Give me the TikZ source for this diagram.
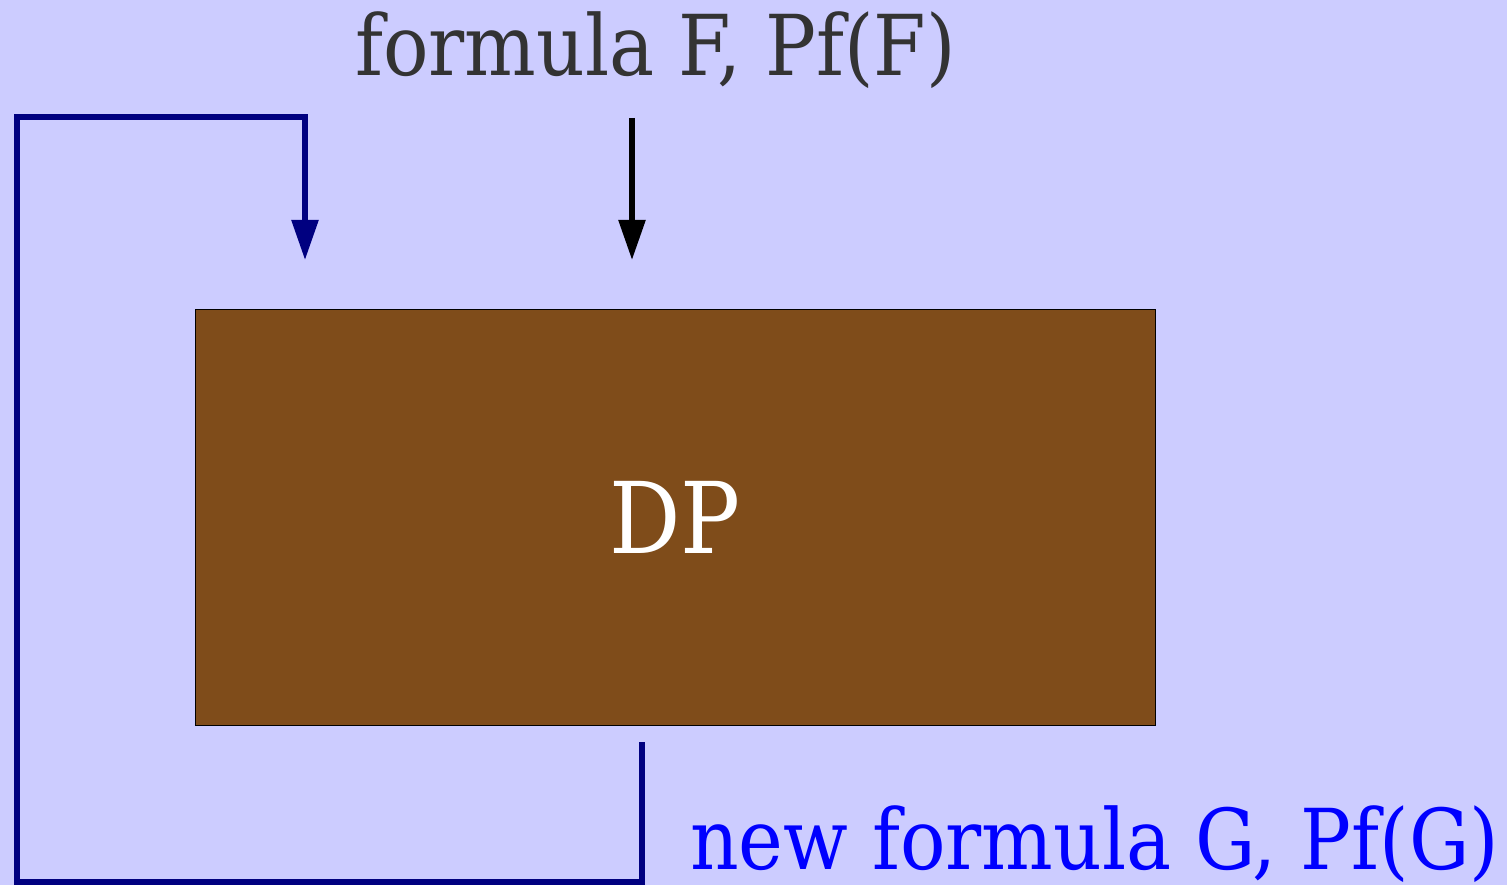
\documentclass[tikz,border=0pt]{standalone}
\usepackage{fontspec}
\setmainfont{DejaVu Serif Condensed}
\usetikzlibrary{arrows.meta}
\definecolor{bg}{HTML}{CCCCFF}
\definecolor{brownbox}{HTML}{7F4C1A}
\definecolor{navy}{HTML}{000080}
\definecolor{darktext}{HTML}{333333}
\definecolor{bluetext}{HTML}{0000FF}
\tikzset{
  lbl/.style={inner sep=0pt, anchor=base west, font=\fontsize{84}{100}\selectfont},
  feed/.style={line width=5.5pt, -{Triangle[width=26pt,length=40pt]}},
}
\begin{document}
\begin{tikzpicture}[x=1pt,y=-1pt]
\useasboundingbox (0,0) rectangle (1507,885);
\fill[bg] (0,0) rectangle (1507,885);
\node[draw=black, line width=1pt, fill=brownbox, minimum width=960pt, minimum height=415pt, inner sep=0pt, text=white, font=\fontsize{99}{115}\selectfont] (dp) at (675,517.5) {DP};
\node[lbl, text=darktext] (top) at (355,76) {formula F, Pf(F)};
\node[lbl, text=bluetext] (bot) at (690,869) {new formula G, Pf(G)};
\coordinate (a1) at (632,118);
\coordinate (a2) at (632,260);
\coordinate (b1) at (642,742);
\coordinate (b2) at (642,882);
\coordinate (b3) at (17,882);
\coordinate (b4) at (17,117);
\coordinate (b5) at (305,117);
\coordinate (b6) at (305,260);
\draw[feed, black] (a1) -- (a2);
\draw[feed, navy] (b1) -- (b2) -- (b3) -- (b4) -- (b5) -- (b6);
\end{tikzpicture}
\end{document}
